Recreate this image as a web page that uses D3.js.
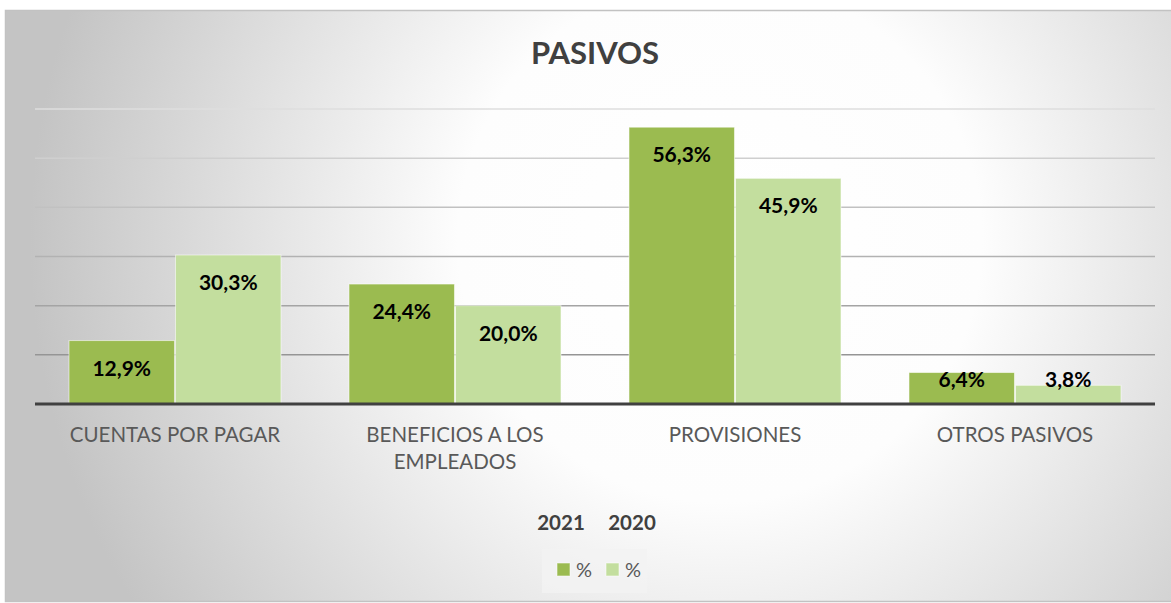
<!DOCTYPE html>
<html>
<head>
<meta charset="utf-8">
<script src="https://cdn.jsdelivr.net/npm/d3@7"></script>
<style>
  body { margin: 0; background: #ffffff; }
  text { font-family: Lato, "Open Sans", sans-serif; }
</style>
</head>
<body>
<svg id="chart" width="1171" height="603"></svg>
<script>
const width = 1171;
const height = 603;

// data
const categories = ["CUENTAS POR PAGAR", "BENEFICIOS A LOS EMPLEADOS", "PROVISIONES", "OTROS PASIVOS"];
const seriesNames = ["2021", "2020"];
const values2021 = [12.9, 24.4, 56.3, 6.4];
const values2020 = [30.3, 20.0, 45.9, 3.8];
const yTicks = [0, 10, 20, 30, 40, 50, 60];
const legendLabels = ["%", "%"];
const colors = ["#9bbb50", "#c3de9e"];

let svg = d3.select("#chart");
let defs = svg.append("defs");

// background radial gradient like the excel chart area
let bg = defs.append("radialGradient")
    .attr("id", "bgGrad")
    .attr("gradientUnits", "userSpaceOnUse")
    .attr("cx", 720).attr("cy", 240).attr("r", 690);
bg.append("stop").attr("offset", "0").attr("stop-color", "#ffffff");
bg.append("stop").attr("offset", "0.38").attr("stop-color", "#fdfdfd");
bg.append("stop").attr("offset", "1").attr("stop-color", "#c4c4c4");

svg.append("rect")
    .attr("x", 5.5).attr("y", 10.5)
    .attr("width", width).attr("height", 591)
    .attr("fill", "url(#bgGrad)")
    .attr("stroke", "#c2c2c2")
    .attr("stroke-width", 1.5);

// scales
let x0 = d3.scaleBand()
    .domain(categories)
    .range([35, 1155]);

let x1 = d3.scaleBand()
    .domain(seriesNames)
    .range([34, 246])
    .paddingInner(0.01);

let y = d3.scaleLinear()
    .domain([0, 60])
    .range([404, 109]);

// gridlines get darker towards the bottom
let gridColor = d3.scaleLinear()
    .domain([60, 10])
    .range(["#dedede", "#959595"]);

svg.append("g").selectAll("line")
    .data(yTicks.filter(function(d){ return d > 0; }))
    .enter().append("line")
    .attr("x1", 35).attr("x2", 1155)
    .attr("y1", function(d){ return y(d); })
    .attr("y2", function(d){ return y(d); })
    .attr("stroke", function(d){ return gridColor(d); })
    .attr("stroke-width", 1.5);

// bars
let rows = categories.map(function(c, i){
    return {"category": c, "values": [
        {"series": "2021", "value": values2021[i]},
        {"series": "2020", "value": values2020[i]}
    ]};
});

let groups = svg.append("g").selectAll("g")
    .data(rows)
    .enter().append("g")
    .attr("transform", function(d){ return "translate(" + x0(d.category) + ",0)"; });

groups.selectAll("rect")
    .data(function(d){ return d.values; })
    .enter().append("rect")
    .attr("x", function(d){ return x1(d.series); })
    .attr("y", function(d){ return y(d.value); })
    .attr("width", x1.bandwidth())
    .attr("height", function(d){ return y(0) - y(d.value); })
    .attr("fill", function(d, i){ return colors[i]; })
    .attr("stroke", "rgba(255,255,255,0.55)")
    .attr("stroke-width", 1);

// value labels, inside end (pushed up for short bars)
groups.selectAll("text.val")
    .data(function(d){ return d.values; })
    .enter().append("text")
    .attr("class", "val")
    .attr("x", function(d){ return x1(d.series) + x1.bandwidth() / 2; })
    .attr("y", function(d){ return Math.min(y(d.value) + 35, y(0) - 17); })
    .attr("text-anchor", "middle")
    .attr("font-size", "21px")
    .attr("font-weight", "bold")
    .attr("fill", "#000000")
    .text(function(d){ return d.value.toFixed(1).replace(".", ",") + "%"; });

// axis line
svg.append("line")
    .attr("x1", 35).attr("x2", 1155)
    .attr("y1", y(0)).attr("y2", y(0))
    .attr("stroke", "#404040")
    .attr("stroke-width", 3);

// category labels (wrap long ones)
function wrapLabel(label){
    if (label.length > 20) {
        let words = label.split(" ");
        return [words.slice(0, 3).join(" "), words.slice(3).join(" ")];
    }
    return [label];
}

let catLabels = svg.append("g").selectAll("text")
    .data(categories)
    .enter().append("text")
    .attr("x", function(d){ return x0(d) + x0.bandwidth() / 2; })
    .attr("y", 442)
    .attr("text-anchor", "middle")
    .attr("font-size", "20.5px")
    .attr("fill", "#595959");

catLabels.selectAll("tspan")
    .data(function(d){ return wrapLabel(d); })
    .enter().append("tspan")
    .attr("x", function(){ let p = d3.select(this.parentNode).datum(); return x0(p) + x0.bandwidth() / 2; })
    .attr("dy", function(d, i){ return i === 0 ? 0 : 27; })
    .text(function(d){ return d; });

// title
svg.append("text")
    .attr("x", 595).attr("y", 64)
    .attr("text-anchor", "middle")
    .attr("font-size", "31px")
    .attr("font-weight", "bold")
    .attr("fill", "#404040")
    .text("PASIVOS");

// series names above legend
let nameX = [561, 632];
svg.append("g").selectAll("text")
    .data(seriesNames)
    .enter().append("text")
    .attr("x", function(d, i){ return nameX[i]; })
    .attr("y", 530)
    .attr("text-anchor", "middle")
    .attr("font-size", "20.5px")
    .attr("font-weight", "bold")
    .attr("fill", "#404040")
    .text(function(d){ return d; });

// legend
let legend = svg.append("g");
legend.append("rect")
    .attr("x", 542).attr("y", 549)
    .attr("width", 105).attr("height", 44)
    .attr("fill", "#f2f2f2")
    .attr("opacity", 0.8);

let swatchX = [557, 606];
legend.selectAll("rect.sw")
    .data(legendLabels)
    .enter().append("rect")
    .attr("class", "sw")
    .attr("x", function(d, i){ return swatchX[i]; })
    .attr("y", 563)
    .attr("width", 13).attr("height", 13)
    .attr("fill", function(d, i){ return colors[i]; })
    .attr("stroke", "rgba(255,255,255,0.55)");

legend.selectAll("text")
    .data(legendLabels)
    .enter().append("text")
    .attr("x", function(d, i){ return swatchX[i] + 19; })
    .attr("y", 577)
    .attr("font-size", "20px")
    .attr("fill", "#595959")
    .text(function(d){ return d; });
</script>
</body>
</html>
